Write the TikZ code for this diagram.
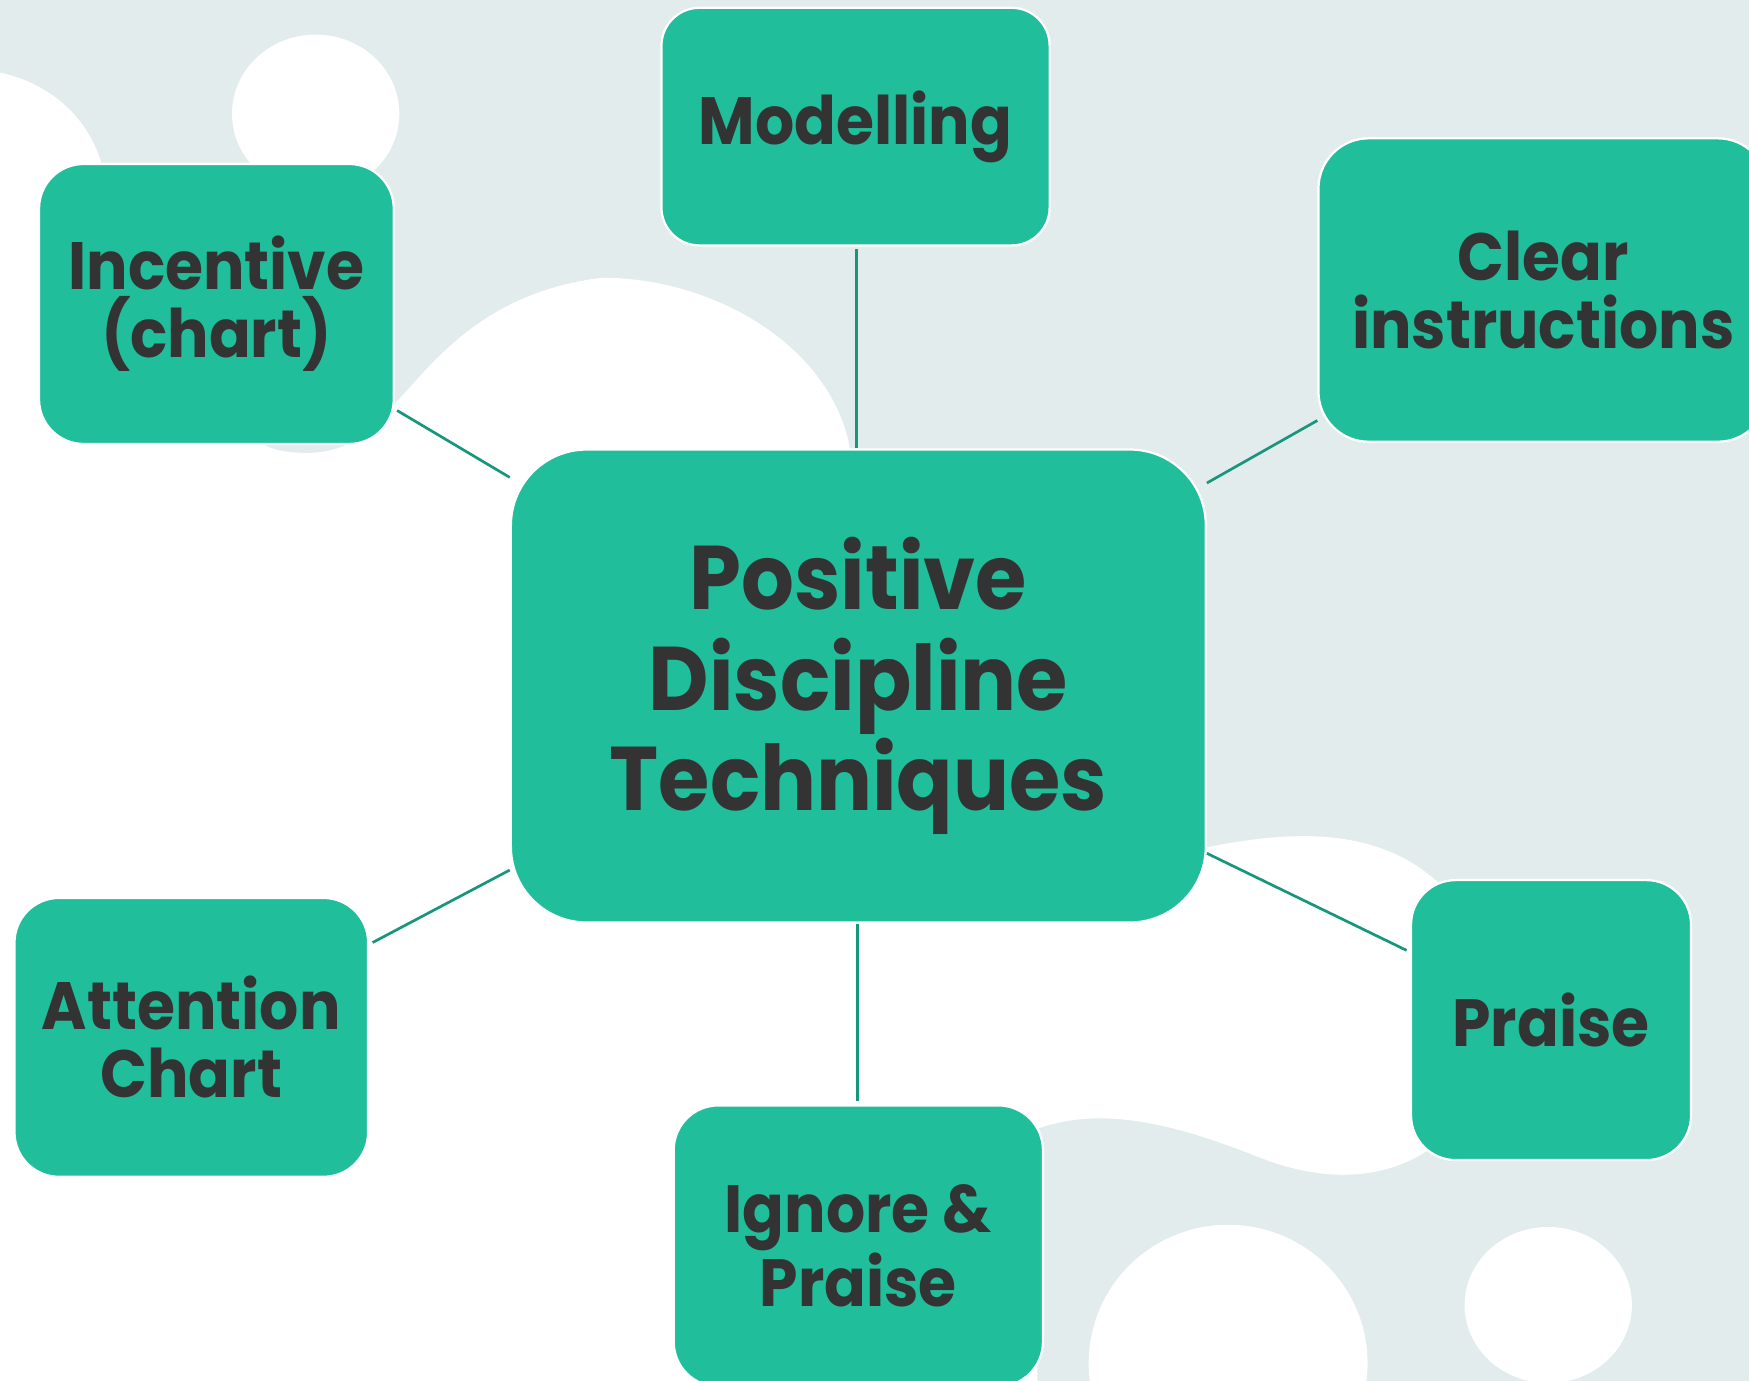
\documentclass[tikz,border=0pt]{standalone}
\usepackage{fontspec}
\setmainfont{Poppins}[FakeStretch=0.92]
\definecolor{bggray}{HTML}{E2ECEC}
\definecolor{boxteal}{HTML}{20BE9A}
\definecolor{linkteal}{HTML}{16967C}
\definecolor{txtdark}{HTML}{333333}
\tikzset{
  box/.style={draw=white, line width=1pt, fill=boxteal, inner sep=0pt,
    align=center, text=txtdark, rounded corners=20pt,
    font=\fontsize{30}{30.5}\selectfont\bfseries},
  bigbox/.style={box, rounded corners=34pt,
    font=\fontsize{40.5}{45}\selectfont\bfseries},
  link/.style={draw=linkteal, line width=1.2pt},
  blob/.style={fill=white}
}
\begin{document}
\begin{tikzpicture}[x=0.5pt,y=-0.5pt]
\useasboundingbox (0,0) rectangle (1568,1238);
\clip (0,0) rectangle (1568,1238);
% background
\fill[bggray] (0,0) rectangle (1568,1238);
\fill[blob] (0,65) .. controls (45,75) and (80,105) .. (92,150)
  -- (235,398) .. controls (245,404) and (260,406) .. (275,406)
  .. controls (290,406) and (302,403) .. (312,398)
  -- (353,363) .. controls (385,330) and (430,262) .. (540,249)
  .. controls (640,249) and (745,310) .. (762,402)
  -- (1080,760) .. controls (1140,748) and (1230,735) .. (1290,792)
  -- (1300,1000) -- (1282,1030)
  .. controls (1250,1052) and (1200,1065) .. (1130,1038)
  .. controls (1060,1010) and (990,990) .. (930,1012)
  -- (930,1250) -- (0,1250) -- cycle;
\fill[blob] (283,102) ellipse [x radius=75, y radius=71];
\fill[blob] (1101,1222) ellipse [x radius=125, y radius=124];
\fill[blob] (1388,1170) ellipse [x radius=75, y radius=70];
% nodes
\node[bigbox, minimum width=311.5pt, minimum height=212pt] (ctr) at (769.5,615)
  {Positive\\Discipline\\Techniques};
\node[box, rounded corners=17pt, minimum width=174pt, minimum height=106.5pt] (mod) at (767,113.5) {Modelling};
\node[box, minimum width=159pt, minimum height=125.5pt] (inc) at (194,272.5) {Incentive\\(chart)};
\node[box, rounded corners=22.5pt, minimum width=201.5pt, minimum height=136pt] (clr) at (1383.5,260) {Clear\\instructions};
\node[box, minimum width=158.5pt, minimum height=125pt] (att) at (171.5,930) {Attention\\Chart};
\node[box, minimum width=165.5pt, minimum height=126pt] (ign) at (769.5,1117) {Ignore \&\\Praise};
\node[box, minimum width=125.5pt, minimum height=125.5pt] (pra) at (1390.5,914.5) {Praise};
% connectors
\draw[link] (mod.south -| 768,0) ++(0,2) -- (ctr.north -| 768,0);
\draw[link] (inc.east |- 0,368) ++(2,0) -- (ctr.west |- 0,428);
\draw[link] (clr.west |- 0,377) -- (ctr.east |- 0,433) ++(2,0);
\draw[link] (att.east |- 0,845) ++(3,0) -- (ctr.west |- 0,780);
\draw[link] (pra.west |- 0,852) ++(-3,0) -- (ctr.east |- 0,765) ++(2,0);
\draw[link] (ign.north -| 769,0) ++(0,-3) -- (ctr.south -| 769,0) ++(0,2);
\end{tikzpicture}
\end{document}
